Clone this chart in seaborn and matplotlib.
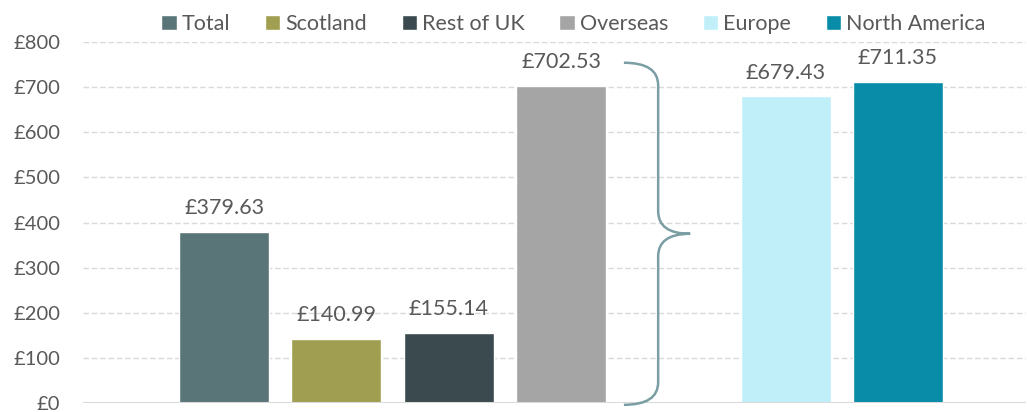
import seaborn as sns
import matplotlib.pyplot as plt
import pandas as pd
from matplotlib.path import Path
from matplotlib.patches import PathPatch

categories = ['Total', 'Scotland', 'Rest of UK', 'Overseas', 'Europe', 'North America']
spend = [379.63, 140.99, 155.14, 702.53, 679.43, 711.35]
colours = ['#5a7577', '#a09e50', '#3b4a4e', '#a5a5a5', '#c0eff9', '#088ca8']
yticks = [0, 100, 200, 300, 400, 500, 600, 700, 800]

width, height, my_dpi = 1027, 412, 100
sns.set_theme(style='white')
plt.rcParams['font.family'] = ['Lato', 'DejaVu Sans']
text_col = '#595959'

df = pd.DataFrame({'category': categories, 'spend': spend})
# blank slot between Overseas and Europe for the brace
order = categories[:4] + [''] + categories[4:]

fig = plt.figure(figsize=(width / my_dpi, height / my_dpi), dpi=my_dpi)
ax = fig.add_axes([83 / width, 9 / height, 943 / width, 361 / height])
sns.barplot(data=df, x='category', y='spend', hue='category', order=order,
            palette=dict(zip(categories, colours)), width=0.8, dodge=False,
            saturation=1, legend=True, ax=ax, zorder=3)

for c in ax.containers:
    ax.bar_label(c, labels=['£{:.2f}'.format(v) for v in c.datavalues],
                 padding=10, fontsize=15.5, color=text_col)

ax.set_ylim(0, 800)
ax.set_xlim(-1.256, 7.14)
ax.set_yticks(yticks)
ax.set_yticklabels(['£{}'.format(t) for t in yticks], fontsize=14.5, color=text_col)
ax.tick_params(axis='y', length=0, pad=16.5)
ax.set_xticks([])
ax.set_xlabel('')
ax.set_ylabel('')
for s in ax.spines.values():
    s.set_visible(False)
for t in yticks[1:]:
    ax.axhline(t, color='#d9d9d9', lw=1, ls=(0, (4, 2)), zorder=1)
ax.axhline(0, color='#d9d9d9', lw=1.5, zorder=4)

# curly brace grouping Europe / North America under Overseas
x0, xm, xt = 3.56, 3.865, 4.15
ytop, ybot, c = 754, -4, 50
ytip = (ytop + ybot) / 2
verts = [(x0, ytop), (xm, ytop), (xm, ytop - c), (xm, ytip + c), (xm, ytip), (xt, ytip),
         (xm, ytip), (xm, ytip - c), (xm, ybot + c), (xm, ybot), (x0, ybot)]
codes = [Path.MOVETO, Path.CURVE3, Path.CURVE3, Path.LINETO, Path.CURVE3, Path.CURVE3,
         Path.CURVE3, Path.CURVE3, Path.LINETO, Path.CURVE3, Path.CURVE3]
ax.add_patch(PathPatch(Path(verts, codes), fc='none', ec='#7a9ea3', lw=1.8,
                       clip_on=False, zorder=5))

sns.move_legend(ax, 'center', bbox_to_anchor=(0.52, 1 + 18 / 361), ncol=6, frameon=False,
                title=None, fontsize=15.5, handlelength=0.72, handleheight=0.72,
                handletextpad=0.22, columnspacing=1.62, borderaxespad=0)
for t in ax.get_legend().get_texts():
    t.set_color(text_col)

plt.savefig('out.png', dpi=my_dpi)
